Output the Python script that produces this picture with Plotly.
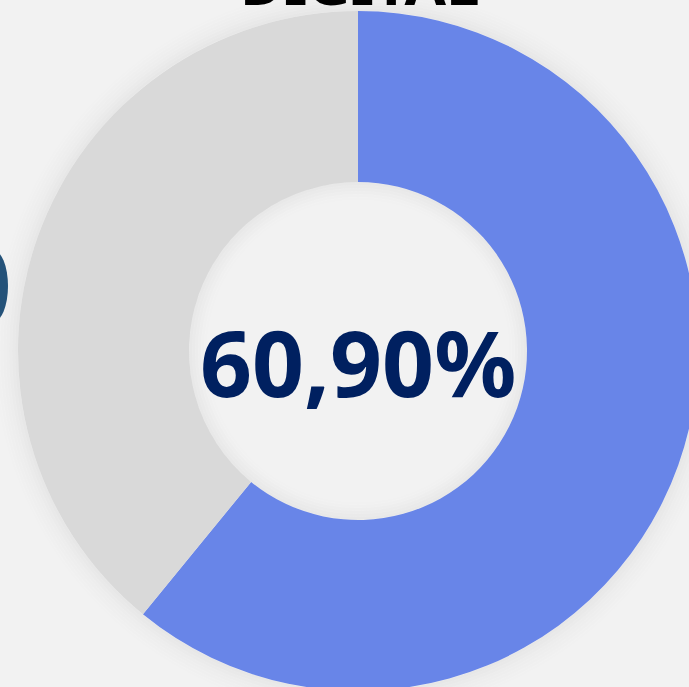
import plotly.graph_objects as go

labels = ["Digital", "Restante"]
values = [60.9, 39.1]
colors = ["#6885e8", "#d9d9d9"]
center_text = "60,90%"
title_text = "DIGITAL"

W, H = 700, 700
CX, CY, R = 358, 351, 340  # pixel position of the donut
HOLE = 0.497


def px(x):
    return x / W


def py(y):
    return 1 - y / H


def ring(r, op, layer):
    return dict(
        type="circle", xref="paper", yref="paper", layer=layer,
        x0=px(CX - r), x1=px(CX + r), y0=py(CY + r), y1=py(CY - r),
        line=dict(color=f"rgba(0,0,0,{op})", width=3),
        fillcolor="rgba(0,0,0,0)",
    )


fig = go.Figure()

fig.add_trace(go.Pie(
    labels=labels,
    values=values,
    hole=HOLE,
    sort=False,
    direction="clockwise",
    rotation=0,
    marker=dict(colors=colors, line=dict(width=0)),
    textinfo="none",
    hoverinfo="label+percent",
    showlegend=False,
    domain=dict(x=[px(CX - R), px(CX + R)], y=[py(CY + R), py(CY - R)]),
))

shapes = []
# soft drop shadow around the ring
for i, op in enumerate([0.045, 0.035, 0.028, 0.021, 0.016, 0.011, 0.007, 0.004]):
    shapes.append(ring(R + 1.5 + i * 3, op, "below"))
# inner shadow in the hole
hole_r = R * HOLE
for i, op in enumerate([0.04, 0.03, 0.022, 0.015, 0.009, 0.004]):
    shapes.append(ring(hole_r - 1.5 - i * 3, op, "above"))
# edge of the neighbouring element on the left
shapes.append(dict(
    type="circle", xref="paper", yref="paper", layer="above",
    x0=px(-22), x1=px(8), y0=py(322), y1=py(250),
    fillcolor="#245279", line=dict(width=0),
))

fig.update_layout(
    width=W,
    height=H,
    margin=dict(l=0, r=0, t=0, b=0),
    paper_bgcolor="#f2f2f2",
    plot_bgcolor="#f2f2f2",
    shapes=shapes,
    annotations=[
        dict(
            text=f"<b>{center_text}</b>", x=px(CX), y=py(362),
            xref="paper", yref="paper", showarrow=False,
            font=dict(family="Noto Sans", size=91, color="#002060"),
        ),
        dict(
            text=f"<b>{title_text}</b>", x=px(CX + 2), y=py(7),
            xref="paper", yref="paper", showarrow=False,
            xanchor="center", yanchor="bottom", yshift=-18,
            font=dict(family="Noto Sans", size=60, color="#000000"),
        ),
    ],
)

# drop the default page margin so the figure starts at the window corner
fig.write_html(
    "out.html",
    config={"displayModeBar": False},
    post_script="document.body.style.margin='0';"
                "document.body.style.background='#f2f2f2';",
)
